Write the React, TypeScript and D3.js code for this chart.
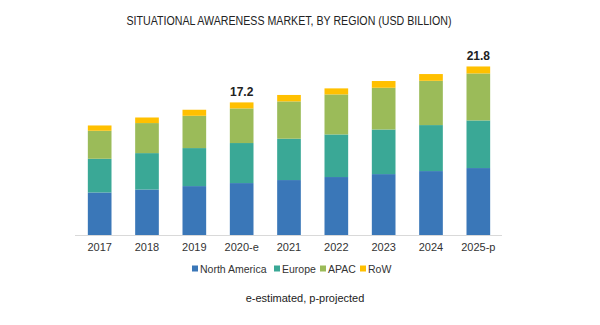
import React from "react";
import * as d3 from "d3";

const years = ["2017", "2018", "2019", "2020-e", "2021", "2022", "2023", "2024", "2025-p"];
const northAmerica = [5.56, 5.94, 6.38, 6.77, 7.16, 7.55, 7.93, 8.32, 8.71];
const europe = [4.35, 4.7, 4.91, 5.17, 5.34, 5.5, 5.76, 5.94, 6.15];
const apac = [3.62, 3.88, 4.17, 4.47, 4.82, 5.17, 5.39, 5.72, 6.07];
const row = [0.68, 0.72, 0.78, 0.78, 0.83, 0.78, 0.87, 0.87, 0.9];
const seriesNames = ["North America", "Europe", "APAC", "RoW"];
const colors = ["#3a77b8", "#3aa896", "#9bbb59", "#ffc000"];
const valueLabels: Record<string, string> = { "2020-e": "17.2", "2025-p": "21.8" };

export default function App() {
  const W = 600, H = 325;
  const x = d3.scaleBand().domain(years).range([76, 502]).paddingInner(0.5).paddingOuter(0.25);
  const y = d3.scaleLinear().domain([0, 21.8]).range([235.5, 66.7]);
  const table = years.map((yr, i) => ({ year: yr, NA: northAmerica[i], EU: europe[i], AP: apac[i], RW: row[i] }));
  const stack = d3.stack<any>().keys(["NA", "EU", "AP", "RW"])(table);
  const font = "'Liberation Sans', Arial, sans-serif";
  const legendX = [192, 274, 320, 360];
  return (
    <svg width={W} height={H} style={{ position: "absolute", left: 0, top: 0, background: "#fff" }} fontFamily={font}>
      <text x={289} y={25} textAnchor="middle" fontSize={12} fill="#222" textLength={325} lengthAdjust="spacingAndGlyphs">
        SITUATIONAL AWARENESS MARKET, BY REGION (USD BILLION)
      </text>
      {stack.map((s, si) => (
        <g key={si} fill={colors[si]}>
          {s.map((d, i) => (
            <rect key={i} x={x(years[i])} width={x.bandwidth()} y={y(d[1])} height={y(d[0]) - y(d[1])} />
          ))}
        </g>
      ))}
      <line x1={75} x2={502} y1={235.5} y2={235.5} stroke="#d9d9d9" strokeWidth={1} />
      {years.map((yr) => (
        <text key={yr} x={(x(yr) as number) + x.bandwidth() / 2} y={251} textAnchor="middle" fontSize={11} fill="#333">
          {yr}
        </text>
      ))}
      {years.map((yr, i) =>
        valueLabels[yr] ? (
          <text key={yr} x={(x(yr) as number) + x.bandwidth() / 2} y={y(stack[3][i][1]) - 6} textAnchor="middle" fontSize={12} fontWeight="bold" fill="#222">
            {valueLabels[yr]}
          </text>
        ) : null
      )}
      {seriesNames.map((n, i) => (
        <g key={n}>
          <rect x={legendX[i]} y={265.5} width={6} height={6} fill={colors[i]} />
          <text x={legendX[i] + 8} y={272.5} fontSize={10.5} fill="#333">{n}</text>
        </g>
      ))}
      <text x={305} y={302} textAnchor="middle" fontSize={11} fill="#222">e-estimated, p-projected</text>
    </svg>
  );
}
